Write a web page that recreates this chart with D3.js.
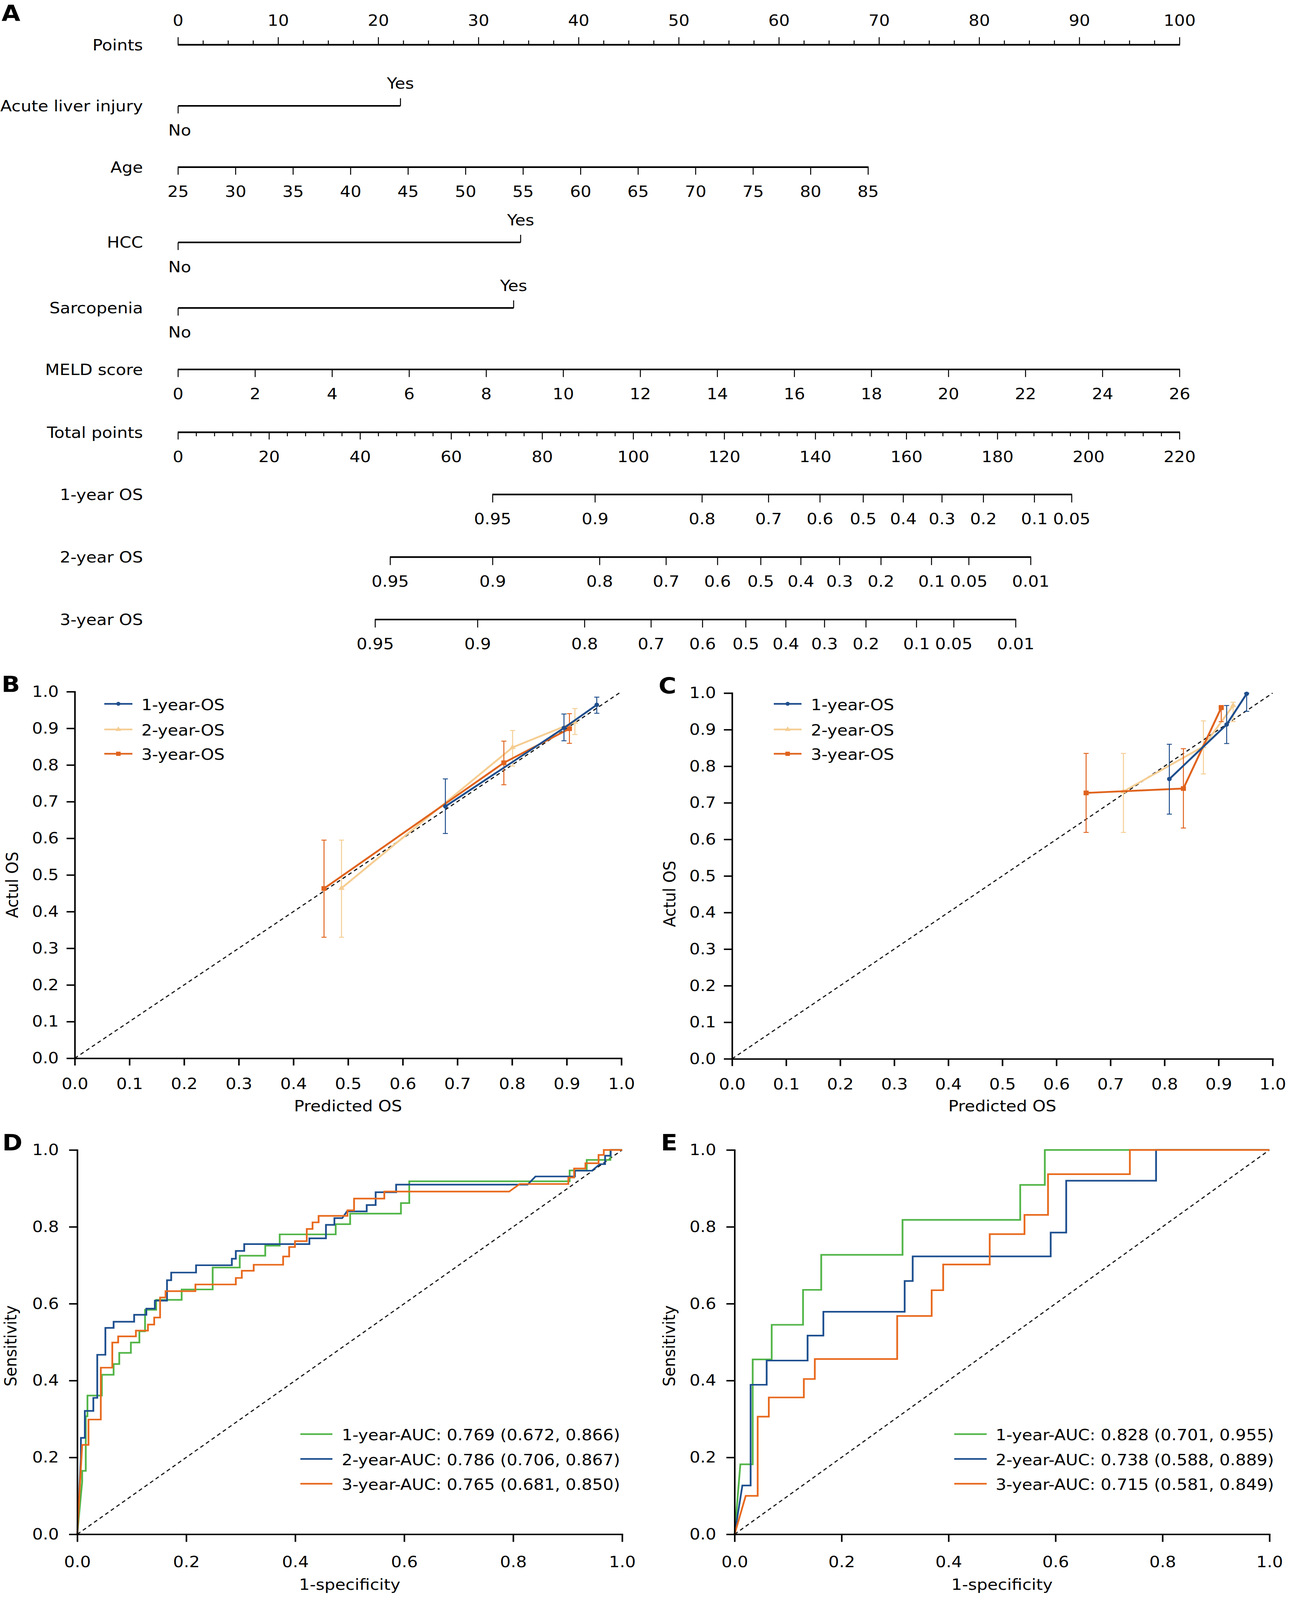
<!DOCTYPE html>
<html>
<head>
<meta charset="utf-8">
<script src="https://cdn.jsdelivr.net/npm/d3@7/dist/d3.min.js"></script>
<style>
html,body{margin:0;padding:0;background:#fff;overflow:hidden;}
svg{display:block;}
</style>
</head>
<body>
<svg id="chart"></svg>
<script>
// ================= DATA =================
// ---- Panel A : nomogram ----
const pointsTicks = [0,10,20,30,40,50,60,70,80,90,100];
const binaryLevels = ["No","Yes"];
const aliPoints = [0, 22.2];          // Acute liver injury No / Yes
const hccPoints = [0, 34.2];          // HCC No / Yes
const sarcopeniaPoints = [0, 33.5];   // Sarcopenia No / Yes
const ageTicks = [25,30,35,40,45,50,55,60,65,70,75,80,85];
const agePointRange = [0, 68.9];      // points for age 25 and 85
const meldTicks = [0,2,4,6,8,10,12,14,16,18,20,22,24,26];
const meldPointRange = [0, 100];      // points for MELD 0 and 26
const totalTicks = [0,20,40,60,80,100,120,140,160,180,200,220];
const os1Labels = ["0.95","0.9","0.8","0.7","0.6","0.5","0.4","0.3","0.2","0.1","0.05"];
const os1Points = [69.1, 91.6, 115.1, 129.7, 141.0, 150.5, 159.3, 167.8, 176.9, 188.1, 196.3];
const os2Labels = ["0.95","0.9","0.8","0.7","0.6","0.5","0.4","0.3","0.2","0.1","0.05","0.01"];
const os2Points = [46.6, 69.1, 92.6, 107.2, 118.5, 128.0, 136.8, 145.3, 154.4, 165.5, 173.7, 187.3];
const os3Labels = ["0.95","0.9","0.8","0.7","0.6","0.5","0.4","0.3","0.2","0.1","0.05","0.01"];
const os3Points = [43.3, 65.8, 89.3, 103.9, 115.2, 124.7, 133.5, 142.0, 151.1, 162.2, 170.4, 184.0];

// ---- Panels B / C : calibration  [predicted, actual, lower, upper] ----
const calTicks = [0,0.1,0.2,0.3,0.4,0.5,0.6,0.7,0.8,0.9,1.0];
const calSeriesNames = ["1-year-OS","2-year-OS","3-year-OS"];
const calB1yr = [[0.678,0.687,0.613,0.762],[0.895,0.901,0.866,0.939],[0.955,0.964,0.941,0.985]];
const calB2yr = [[0.488,0.464,0.330,0.595],[0.801,0.848,0.797,0.894],[0.915,0.917,0.883,0.954]];
const calB3yr = [[0.456,0.463,0.330,0.595],[0.785,0.806,0.746,0.865],[0.905,0.899,0.859,0.940]];
const calC1yr = [[0.809,0.765,0.669,0.860],[0.915,0.914,0.862,0.966],[0.952,0.998,0.950,1.000]];
const calC2yr = [[0.724,0.731,0.619,0.835],[0.872,0.854,0.779,0.924],[0.927,0.966,0.922,0.975]];
const calC3yr = [[0.655,0.727,0.619,0.835],[0.835,0.739,0.631,0.848],[0.905,0.960,0.922,0.966]];

// ---- Panels D / E : ROC  [1-specificity, sensitivity] ----
const rocTicks = [0,0.2,0.4,0.6,0.8,1.0];
const rocDLabels = ["1-year-AUC: 0.769 (0.672, 0.866)","2-year-AUC: 0.786 (0.706, 0.867)","3-year-AUC: 0.765 (0.681, 0.850)"];
const rocELabels = ["1-year-AUC: 0.828 (0.701, 0.955)","2-year-AUC: 0.738 (0.588, 0.889)","3-year-AUC: 0.715 (0.581, 0.849)"];
const rocD1yr = [[0,0],[0.009,0.137],[0.009,0.165],[0.0156,0.165],[0.0156,0.307],[0.0187,0.307],[0.0187,0.361],[0.0451,0.361],[0.0451,0.415],[0.0667,0.415],[0.0667,0.443],[0.0771,0.443],[0.0771,0.472],[0.0984,0.472],[0.0984,0.499],[0.114,0.499],[0.114,0.528],[0.1244,0.528],[0.1244,0.584],[0.1448,0.584],[0.1448,0.610],[0.1916,0.610],[0.1916,0.637],[0.2485,0.637],[0.2485,0.694],[0.2982,0.694],[0.2982,0.7248],[0.345,0.7248],[0.345,0.751],[0.3715,0.751],[0.3715,0.7803],[0.4743,0.7803],[0.4743,0.8069],[0.5008,0.8069],[0.5008,0.8343],[0.594,0.8343],[0.594,0.8617],[0.6093,0.8617],[0.6093,0.9185],[0.9036,0.9185],[0.9036,0.9466],[0.935,0.9466],[0.935,0.974],[0.9784,0.974],[0.9784,1],[1,1]];
const rocD2yr = [[0,0],[0.0067,0.20],[0.0067,0.251],[0.0139,0.251],[0.0139,0.321],[0.0295,0.321],[0.0295,0.355],[0.0367,0.355],[0.0367,0.467],[0.0516,0.467],[0.0516,0.537],[0.0667,0.537],[0.0667,0.553],[0.1044,0.553],[0.1044,0.571],[0.1268,0.571],[0.1268,0.587],[0.1424,0.587],[0.1424,0.608],[0.1647,0.608],[0.1647,0.661],[0.1724,0.661],[0.1724,0.681],[0.218,0.681],[0.218,0.700],[0.2837,0.700],[0.2837,0.717],[0.291,0.717],[0.291,0.7373],[0.3064,0.7373],[0.3064,0.755],[0.426,0.755],[0.426,0.770],[0.4564,0.770],[0.4564,0.805],[0.4719,0.805],[0.4719,0.8226],[0.4863,0.8226],[0.495,0.8402],[0.5312,0.8402],[0.5312,0.8566],[0.5476,0.8566],[0.5476,0.8899],[0.5852,0.8899],[0.5852,0.9098],[0.8264,0.9098],[0.8409,0.931],[0.9133,0.931],[0.9133,0.946],[0.9446,0.946],[0.959,0.963],[0.9687,0.963],[0.9687,0.985],[0.979,0.985],[0.979,1],[1,1]];
const rocD3yr = [[0,0],[0.009,0.2326],[0.0206,0.2326],[0.0206,0.2986],[0.0432,0.2986],[0.0432,0.4335],[0.0643,0.4335],[0.0643,0.499],[0.0751,0.499],[0.0751,0.515],[0.1076,0.515],[0.1076,0.530],[0.1297,0.530],[0.1297,0.5456],[0.1412,0.5456],[0.1412,0.564],[0.152,0.564],[0.152,0.616],[0.162,0.616],[0.162,0.6326],[0.2168,0.6326],[0.2168,0.650],[0.291,0.650],[0.291,0.667],[0.302,0.667],[0.302,0.6856],[0.3238,0.6856],[0.3238,0.7013],[0.3778,0.7013],[0.3778,0.7228],[0.3889,0.7228],[0.3889,0.7475],[0.3995,0.7475],[0.3995,0.7627],[0.4212,0.7627],[0.4212,0.7944],[0.4318,0.7944],[0.4318,0.8116],[0.4429,0.8116],[0.4429,0.8285],[0.4959,0.8285],[0.4959,0.843],[0.508,0.843],[0.508,0.8735],[0.5635,0.8735],[0.5635,0.8918],[0.7927,0.8918],[0.812,0.9114],[0.9012,0.9114],[0.9012,0.9282],[0.9118,0.9282],[0.9118,0.9517],[0.9326,0.9517],[0.9326,0.9654],[0.9567,0.9654],[0.9567,0.987],[0.9663,0.987],[0.9663,1],[1,1]];
const rocE1yr = [[0,0],[0.0108,0.182],[0.0339,0.182],[0.0339,0.455],[0.0694,0.455],[0.0694,0.545],[0.128,0.545],[0.128,0.636],[0.162,0.636],[0.162,0.727],[0.314,0.727],[0.314,0.818],[0.534,0.818],[0.534,0.909],[0.580,0.909],[0.580,1],[1,1]];
const rocE2yr = [[0,0],[0.0146,0.127],[0.030,0.127],[0.030,0.389],[0.060,0.389],[0.060,0.452],[0.1365,0.452],[0.1365,0.517],[0.166,0.517],[0.166,0.579],[0.318,0.579],[0.318,0.659],[0.333,0.659],[0.333,0.723],[0.591,0.723],[0.591,0.785],[0.620,0.785],[0.620,0.920],[0.788,0.920],[0.788,1],[1,1]];
const rocE3yr = [[0,0],[0.0208,0.100],[0.0432,0.100],[0.0432,0.306],[0.064,0.306],[0.064,0.356],[0.1295,0.356],[0.1295,0.404],[0.150,0.404],[0.150,0.456],[0.304,0.456],[0.304,0.568],[0.3685,0.568],[0.3685,0.635],[0.390,0.635],[0.390,0.702],[0.477,0.702],[0.477,0.781],[0.542,0.781],[0.542,0.831],[0.586,0.831],[0.586,0.937],[0.739,0.937],[0.739,1],[1,1]];

// ================= DRAWING =================
const FONT = "'DejaVu Sans', Verdana, sans-serif";
const FS = 43;
const VW = window.innerWidth || 3300, VH = window.innerHeight || 4414;
const svg = d3.select('#chart')
  .attr('width', VW).attr('height', VH)
  .attr('viewBox', '0 0 3300 4414')
  .attr('preserveAspectRatio', 'none');
svg.append('rect').attr('width',3300).attr('height',4414).attr('fill','#fff');

function txt(g, x, y, t, anchor, opts){
  opts = opts || {};
  return g.append('text').attr('x',x).attr('y',y)
    .attr('text-anchor',anchor||'middle')
    .attr('font-family',FONT).attr('font-size',opts.size||FS)
    .attr('font-weight',opts.weight||'normal')
    .attr('fill',opts.fill||'#000').text(t);
}
function panelLetter(t, x, y){ txt(svg, x, y, t, 'start', {size:62, weight:'bold'}); }

// ---------- Panel A ----------
const nomo = svg.append('g');
const ptsX = d3.scaleLinear().domain([0,100]).range([456,3020]);
const totX = d3.scaleLinear().domain([0,220]).range([456,3020]);
const LABEL_X = 366;
const AXW = 4.5, TKW = 2.5;

function hline(xa, xb, y){
  nomo.append('line').attr('x1',xa).attr('x2',xb).attr('y1',y).attr('y2',y)
    .attr('stroke','#000').attr('stroke-width',AXW);
}
function vtick(x, ya, yb){
  nomo.append('line').attr('x1',x).attr('x2',x).attr('y1',ya).attr('y2',yb)
    .attr('stroke','#000').attr('stroke-width',TKW);
}
function rowLabel(t, y){ txt(nomo, LABEL_X, y+15, t, 'end'); }

panelLetter('A', 4, 58);

(function(){
  const y = 123.6;
  rowLabel('Points', y);
  hline(ptsX(0)-1, ptsX(100)+1, y);
  d3.range(0, 100.001, 2.5).forEach(v => {
    const major = pointsTicks.includes(v);
    vtick(ptsX(v), y - (major ? 21 : 12), y);
  });
  pointsTicks.forEach(v => txt(nomo, ptsX(v), y-52, String(v)));
})();

function binaryRow(name, y, pts){
  rowLabel(name, y);
  hline(ptsX(pts[0]), ptsX(pts[1]), y);
  vtick(ptsX(pts[0]), y, y+21);
  vtick(ptsX(pts[1]), y-21, y);
  txt(nomo, ptsX(pts[1]), y-47, binaryLevels[1]);
  txt(nomo, ptsX(pts[0])+4, y+82, binaryLevels[0]);
}
binaryRow('Acute liver injury', 292, aliPoints);

(function(){
  const y = 461;
  const ageX = d3.scaleLinear().domain([ageTicks[0], ageTicks[ageTicks.length-1]])
    .range([ptsX(agePointRange[0]), ptsX(agePointRange[1])]);
  rowLabel('Age', y);
  hline(ageX(25)-1, ageX(85)+1, y);
  ageTicks.forEach(v => { vtick(ageX(v), y, y+21); txt(nomo, ageX(v), y+82, String(v)); });
})();

binaryRow('HCC', 668.7, hccPoints);
binaryRow('Sarcopenia', 849.6, sarcopeniaPoints);

(function(){
  const y = 1019.2;
  const meldX = d3.scaleLinear().domain([meldTicks[0], meldTicks[meldTicks.length-1]])
    .range([ptsX(meldPointRange[0]), ptsX(meldPointRange[1])]);
  rowLabel('MELD score', y);
  hline(meldX(0)-1, meldX(26)+1, y);
  meldTicks.forEach(v => { vtick(meldX(v), y, y+21); txt(nomo, meldX(v), y+82, String(v)); });
})();

(function(){
  const y = 1192.5;
  rowLabel('Total points', y);
  hline(totX(0)-1, totX(220)+1, y);
  d3.range(0, 220.001, 4).forEach(v => {
    const major = totalTicks.includes(v);
    vtick(totX(v), y, y + (major ? 20 : 11));
  });
  totalTicks.forEach(v => txt(nomo, totX(v), y+82, String(v)));
})();

function osRow(name, y, pts, labels){
  rowLabel(name, y);
  hline(totX(pts[0])-1, totX(pts[pts.length-1])+1, y);
  pts.forEach((p,i) => { vtick(totX(p), y, y+22); txt(nomo, totX(p), y+82, labels[i]); });
}
osRow('1-year OS', 1364.2, os1Points, os1Labels);
osRow('2-year OS', 1536.9, os2Points, os2Labels);
osRow('3-year OS', 1709.1, os3Points, os3Labels);

function styleAxis(g){
  g.select('.domain').attr('stroke','#000').attr('stroke-width',4).attr('stroke-linecap','square');
  g.selectAll('.tick line').attr('stroke','#000').attr('stroke-width',4);
  g.selectAll('.tick text').attr('font-family',FONT).attr('font-size',FS).attr('fill','#000');
}

// ---------- Calibration panels ----------
const calColors = ['#1F4E8C','#F5CD92','#E0631D'];
const calSymbols = [d3.symbolCircle, d3.symbolTriangle, d3.symbolSquare];
const calSymSize = [113, 110, 169];

function calPanel(cfg){
  const g = svg.append('g');
  const x = d3.scaleLinear().domain([0,1]).range([cfg.x0, cfg.x1]);
  const y = d3.scaleLinear().domain([0,1]).range([cfg.y0, cfg.y1]);
  g.append('line').attr('x1',x(0)).attr('y1',y(0)).attr('x2',x(1)).attr('y2',y(1))
    .attr('stroke','#111').attr('stroke-width',3).attr('stroke-dasharray','10,8');
  const gy = g.append('g').attr('transform',`translate(${x(0)},0)`)
    .call(d3.axisLeft(y).tickValues(calTicks).tickFormat(d3.format('.1f')).tickSize(21).tickSizeOuter(0).tickPadding(20));
  const gx = g.append('g').attr('transform',`translate(0,${y(0)})`)
    .call(d3.axisBottom(x).tickValues(calTicks).tickFormat(d3.format('.1f')).tickSize(20).tickSizeOuter(0).tickPadding(34));
  styleAxis(gy); styleAxis(gx);

  const order = [1,2,0];   // 2-year, 3-year, then 1-year on top
  const line = d3.line().x(d => x(d[0])).y(d => y(d[1]));
  order.forEach(i => {
    const data = cfg.series[i], col = calColors[i];
    g.append('path').datum(data).attr('d',line).attr('fill','none')
      .attr('stroke',col).attr('stroke-width',5).attr('stroke-linejoin','round');
    data.forEach(d => {
      g.append('line').attr('x1',x(d[0])).attr('x2',x(d[0])).attr('y1',y(d[2])).attr('y2',y(d[3]))
        .attr('stroke',col).attr('stroke-width',2.5);
      [d[2], d[3]].forEach(v => g.append('line').attr('x1',x(d[0])-6.5).attr('x2',x(d[0])+6.5)
        .attr('y1',y(v)).attr('y2',y(v)).attr('stroke',col).attr('stroke-width',2.5));
    });
    g.selectAll(null).data(data).enter().append('path')
      .attr('d', d3.symbol().type(calSymbols[i]).size(calSymSize[i]))
      .attr('transform', d => `translate(${x(d[0])},${y(d[1])})`)
      .attr('fill', col);
  });
  calSeriesNames.forEach((nm,i) => {
    const ly = cfg.legY[i];
    g.append('line').attr('x1',cfg.legX[0]).attr('x2',cfg.legX[1]).attr('y1',ly).attr('y2',ly)
      .attr('stroke',calColors[i]).attr('stroke-width',4.5);
    g.append('path').attr('d', d3.symbol().type(calSymbols[i]).size(calSymSize[i]*0.8))
      .attr('transform',`translate(${(cfg.legX[0]+cfg.legX[1])/2},${ly})`).attr('fill',calColors[i]);
    txt(g, cfg.legX[2], ly+17, nm, 'start');
  });
  txt(g, (cfg.x0+cfg.x1)/2, cfg.xTitleY, 'Predicted OS');
  txt(g, 0, 0, 'Actul OS').attr('transform',`translate(${cfg.yTitleX},${cfg.yTitleC}) rotate(-90)`);
}

panelLetter('B', 4, 1910);
calPanel({x0:191.4, x1:1590.8, y0:2919.4, y1:1908.1,
  series:[calB1yr, calB2yr, calB3yr],
  legX:[267, 339, 362], legY:[1941.7, 2012.3, 2079.5],
  xTitleY:3066, yTitleX:46, yTitleC:2441});

panelLetter('C', 1686, 1914);
calPanel({x0:1874.2, x1:3258, y0:2921, y1:1912,
  series:[calC1yr, calC2yr, calC3yr],
  legX:[1981, 2052, 2076], legY:[1941.7, 2012.3, 2079.5],
  xTitleY:3066, yTitleX:1729, yTitleC:2466});

// ---------- ROC panels ----------
const rocColors = ['#52B548','#1D4F8F','#E8691D'];

function rocPanel(cfg){
  const g = svg.append('g');
  const x = d3.scaleLinear().domain([0,1]).range([cfg.x0, cfg.x1]);
  const y = d3.scaleLinear().domain([0,1]).range([cfg.y0, cfg.y1]);
  g.append('line').attr('x1',x(0)).attr('y1',y(0)).attr('x2',x(1)).attr('y2',y(1))
    .attr('stroke','#111').attr('stroke-width',3).attr('stroke-dasharray','10,8');
  const line = d3.line().x(d => x(d[0])).y(d => y(d[1]));
  cfg.series.forEach((data,i) => {
    g.append('path').datum(data).attr('d',line).attr('fill','none')
      .attr('stroke',rocColors[i]).attr('stroke-width',4.5).attr('stroke-linejoin','miter');
  });
  const gy = g.append('g').attr('transform',`translate(${x(0)},0)`)
    .call(d3.axisLeft(y).tickValues(rocTicks).tickFormat(d3.format('.1f')).tickSize(21).tickSizeOuter(0).tickPadding(26));
  const gx = g.append('g').attr('transform',`translate(0,${y(0)})`)
    .call(d3.axisBottom(x).tickValues(rocTicks).tickFormat(d3.format('.1f')).tickSize(21).tickSizeOuter(0).tickPadding(39));
  styleAxis(gy); styleAxis(gx);
  cfg.labels.forEach((lb,i) => {
    const ly = cfg.legY[i];
    g.append('line').attr('x1',cfg.legX[0]).attr('x2',cfg.legX[1]).attr('y1',ly).attr('y2',ly)
      .attr('stroke',rocColors[i]).attr('stroke-width',4.5);
    txt(g, cfg.legX[2], ly+17, lb, 'start');
  });
  txt(g, (cfg.x0+cfg.x1)/2, cfg.xTitleY, '1-specificity');
  txt(g, 0, 0, 'Sensitivity').attr('transform',`translate(${cfg.yTitleX},${cfg.yTitleC}) rotate(-90)`);
}

panelLetter('D', 6, 3174);
rocPanel({x0:197.8, x1:1592.8, y0:4232.7, y1:3172.4,
  series:[rocD1yr, rocD2yr, rocD3yr], labels:rocDLabels,
  legX:[769, 851, 875], legY:[3956.5, 4024.9, 4093.3],
  xTitleY:4386, yTitleX:42, yTitleC:3713});

panelLetter('E', 1692, 3174);
rocPanel({x0:1880.6, x1:3250, y0:4232.7, y1:3172.4,
  series:[rocE1yr, rocE2yr, rocE3yr], labels:rocELabels,
  legX:[2443, 2526, 2549], legY:[3956.5, 4024.9, 4093.3],
  xTitleY:4386, yTitleX:1728, yTitleC:3713});
</script>
</body>
</html>
